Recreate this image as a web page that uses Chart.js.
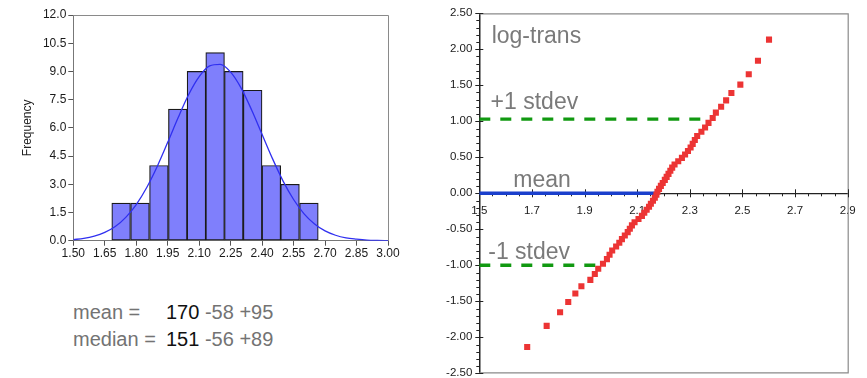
<!DOCTYPE html>
<html>
<head>
<meta charset="utf-8">
<script src="https://cdn.jsdelivr.net/npm/chart.js@4.4.1/dist/chart.umd.min.js"></script>
<style>
  body { margin: 0; background: #fff; width: 867px; height: 378px; overflow: hidden; position: relative; font-family: "Liberation Sans", Arial, sans-serif; }
  #histWrap { position: absolute; left: 0; top: 0; width: 400px; height: 270px; }
  #qqWrap { position: absolute; left: 420px; top: 0; width: 447px; height: 378px; }
  .stats { position: absolute; left: 73px; font-size: 20px; line-height: 20px; color: #737373; white-space: nowrap; }
  .stats .lbl { display: inline-block; width: 93px; }
  .stats b { font-weight: normal; color: #111; }
</style>
</head>
<body>
<div id="histWrap"><canvas id="histChart"></canvas></div>
<div id="qqWrap"><canvas id="qqChart"></canvas></div>
<div class="stats" style="top:302px"><span class="lbl">mean =</span><b>170</b> -58 +95</div>
<div class="stats" style="top:329px"><span class="lbl">median =</span><b>151</b> -56 +89</div>

<script>
// histogram (left)
const binCenters = [1.728, 1.818, 1.908, 1.998, 2.087, 2.176, 2.265, 2.355, 2.444, 2.533, 2.623];
const binCounts = [2, 2, 4, 7, 9, 10, 9, 8, 4, 3, 2];
const curveX = [1.50, 1.55, 1.60, 1.65, 1.70, 1.75, 1.80, 1.85, 1.90, 1.95, 2.00, 2.05, 2.10, 2.15, 2.20,
                2.25, 2.30, 2.35, 2.40, 2.45, 2.50, 2.55, 2.60, 2.65, 2.70, 2.75, 2.80, 2.85, 2.90, 2.95, 3.00];
const curveY = [0.06, 0.12, 0.24, 0.44, 0.75, 1.24, 1.92, 2.83, 3.95, 5.23, 6.55, 7.77, 8.72, 9.29, 9.37,
                8.96, 8.11, 6.95, 5.65, 4.35, 3.17, 2.19, 1.43, 0.89, 0.52, 0.29, 0.15, 0.08, 0.03, 0.01, 0.0];
const histXTicks = [1.50, 1.65, 1.80, 1.95, 2.10, 2.25, 2.40, 2.55, 2.70, 2.85, 3.00];
const histYTicks = [0, 1.5, 3.0, 4.5, 6.0, 7.5, 9.0, 10.5, 12.0];

// normal probability plot (right)
const qqX = [1.682, 1.756, 1.807, 1.838, 1.865, 1.888, 1.922, 1.939, 1.952, 1.970,
             1.985, 1.995, 2.005, 2.020, 2.032, 2.042, 2.053, 2.064, 2.072, 2.080,
             2.090, 2.105, 2.118, 2.127, 2.136, 2.145, 2.152, 2.160, 2.167, 2.173,
             2.177, 2.183, 2.190, 2.197, 2.205, 2.212, 2.219, 2.226, 2.233, 2.242,
             2.256, 2.270, 2.282, 2.293, 2.303, 2.311, 2.319, 2.328, 2.344, 2.358,
             2.371, 2.387, 2.399, 2.419, 2.438, 2.458, 2.492, 2.524, 2.559, 2.601];
const qqY = [-2.134, -1.841, -1.653, -1.509, -1.392, -1.291, -1.202, -1.121, -1.047, -0.978,
             -0.914, -0.854, -0.795, -0.740, -0.687, -0.636, -0.587, -0.539, -0.492, -0.446,
             -0.401, -0.357, -0.313, -0.270, -0.228, -0.186, -0.144, -0.103, -0.062, -0.021,
             0.021, 0.062, 0.103, 0.144, 0.186, 0.228, 0.270, 0.313, 0.357, 0.401,
             0.446, 0.492, 0.539, 0.587, 0.636, 0.687, 0.740, 0.795, 0.854, 0.914,
             0.978, 1.047, 1.121, 1.202, 1.291, 1.392, 1.509, 1.653, 1.841, 2.134];
const qqXTicks = [1.5, 1.7, 1.9, 2.1, 2.3, 2.5, 2.7, 2.9];
const qqYTicks = [-2.5, -2.0, -1.5, -1.0, -0.5, 0, 0.5, 1.0, 1.5, 2.0, 2.5];
const plusLine = [[1.5, 1.03], [2.377, 1.03]];
const minusLine = [[1.5, -1.0], [1.96, -1.0]];
const meanLine = [[1.5, 0.0], [2.174, 0.0]];
const qqLabels = [
  { text: "log-trans", x: 1.547, y: 2.09 },
  { text: "+1 stdev", x: 1.543, y: 1.17 },
  { text: "mean", x: 1.629, y: 0.085 },
  { text: "-1 stdev", x: 1.534, y: -0.91 },
];

const toXY = (pairs) => pairs.map((p) => ({ x: p[0], y: p[1] }));

// left chart: grey frame on top and right
const histFrame = {
  id: "histFrame",
  afterDraw(chart) {
    const { ctx, chartArea: a } = chart;
    ctx.save();
    ctx.strokeStyle = "#8a8a8a";
    ctx.lineWidth = 1;
    ctx.beginPath();
    ctx.moveTo(a.left, a.top + 0.5);
    ctx.lineTo(a.right + 0.5, a.top + 0.5);
    ctx.lineTo(a.right + 0.5, a.bottom);
    ctx.stroke();
    ctx.restore();
  },
};

new Chart(document.getElementById("histChart"), {
  type: "bar",
  data: {
    datasets: [
      {
        type: "line",
        data: curveX.map((x, i) => ({ x: x, y: curveY[i] })),
        borderColor: "#3030f0",
        borderWidth: 1.3,
        pointRadius: 0,
        cubicInterpolationMode: "monotone",
      },
      {
        type: "bar",
        data: binCenters.map((x, i) => ({ x: x, y: binCounts[i] })),
        backgroundColor: "#7f7ffc",
        borderColor: "#1a1a1a",
        borderWidth: 1.2,
        borderSkipped: false,
        categoryPercentage: 1,
        barPercentage: 1,
      },
    ],
  },
  options: {
    responsive: true,
    maintainAspectRatio: false,
    animation: false,
    layout: { padding: { left: 0, right: 12, top: 15, bottom: 0 } },
    plugins: { legend: { display: false }, tooltip: { enabled: false } },
    scales: {
      x: {
        type: "linear",
        min: 1.5,
        max: 3.0,
        offset: false,
        afterBuildTicks: (s) => { s.ticks = histXTicks.map((v) => ({ value: v })); },
        afterFit: (s) => { s.height = 29.3; s.paddingLeft = 0; s.paddingRight = 0; },
        ticks: {
          callback: (v) => Number(v).toFixed(2),
          color: "#1a1a1a",
          font: { family: "Liberation Sans", size: 12 },
          padding: 1,
          maxRotation: 0,
          autoSkip: false,
        },
        grid: { offset: false, drawOnChartArea: false, tickLength: 5, color: "#555" },
        border: { color: "#777" },
      },
      y: {
        min: 0,
        max: 12,
        afterBuildTicks: (s) => { s.ticks = histYTicks.map((v) => ({ value: v })); },
        afterFit: (s) => { s.width = 73.3; s.paddingTop = 0; s.paddingBottom = 0; },
        ticks: {
          callback: (v) => Number(v).toFixed(1),
          color: "#1a1a1a",
          font: { family: "Liberation Sans", size: 12 },
          padding: 2,
        },
        grid: { drawOnChartArea: false, tickLength: 5, color: "#555" },
        border: { color: "#777" },
        title: {
          display: true,
          text: "Frequency",
          color: "#222",
          font: { family: "Liberation Sans", size: 12 },
          padding: { top: 20, bottom: 0 },
        },
      },
    },
  },
  plugins: [histFrame],
});

// right chart: frame, minor ticks and text labels
const qqDecor = {
  id: "qqDecor",
  beforeDatasetsDraw(chart) {
    const { ctx, chartArea: a, scales } = chart;
    const xs = scales.x, ys = scales.y;
    const y0 = ys.getPixelForValue(0);
    ctx.save();
    ctx.strokeStyle = "#8a8a8a";
    ctx.lineWidth = 1.2;
    ctx.beginPath();
    ctx.moveTo(a.left, a.top + 0.5);
    ctx.lineTo(a.right + 0.5, a.top + 0.5);
    ctx.lineTo(a.right + 0.5, a.bottom - 0.5);
    ctx.lineTo(a.left, a.bottom - 0.5);
    ctx.stroke();

    ctx.strokeStyle = "#222";
    ctx.lineWidth = 1;
    ctx.beginPath();
    for (let k = -25; k <= 25; k++) {
      const py = Math.round(ys.getPixelForValue(k / 10)) + 0.5;
      if (k % 5 === 0) {
        ctx.moveTo(a.left - 4, py);
        ctx.lineTo(a.left + 4, py);
      } else {
        ctx.moveTo(a.left - 3, py);
        ctx.lineTo(a.left, py);
      }
    }
    for (let k = 30; k <= 58; k++) {
      const px = Math.round(xs.getPixelForValue(k / 20)) + 0.5;
      if (k % 4 === 2) {
        ctx.moveTo(px, y0 - 4);
        ctx.lineTo(px, y0 + 4);
      } else {
        ctx.moveTo(px, y0);
        ctx.lineTo(px, y0 + 3);
      }
    }
    ctx.stroke();

    ctx.fillStyle = "#7a7a7a";
    ctx.font = "23px 'Liberation Sans', Arial, sans-serif";
    ctx.textBaseline = "alphabetic";
    ctx.textAlign = "left";
    qqLabels.forEach((l) => {
      ctx.fillText(l.text, xs.getPixelForValue(l.x), ys.getPixelForValue(l.y));
    });
    ctx.restore();
  },
};

const lineSet = (pairs, color, dash) => ({
  data: toXY(pairs),
  showLine: true,
  borderColor: color,
  borderWidth: 3.4,
  borderDash: dash,
  pointRadius: 0,
  fill: false,
});

new Chart(document.getElementById("qqChart"), {
  type: "scatter",
  data: {
    datasets: [
      {
        data: qqX.map((x, i) => ({ x: x, y: qqY[i] })),
        pointStyle: "rect",
        pointRadius: 4.3,
        pointBorderWidth: 0,
        backgroundColor: "#ec3434",
        borderColor: "#ec3434",
      },
      lineSet(plusLine, "#119911", [11, 10]),
      lineSet(minusLine, "#119911", [11, 10]),
      lineSet(meanLine, "#1a3fcc", []),
    ],
  },
  options: {
    responsive: true,
    maintainAspectRatio: false,
    animation: false,
    layout: { padding: { left: 0, right: 19.3, top: 13.3, bottom: 4.7 } },
    plugins: { legend: { display: false }, tooltip: { enabled: false } },
    scales: {
      x: {
        type: "linear",
        position: { y: 0 },
        min: 1.5,
        max: 2.9,
        afterBuildTicks: (s) => { s.ticks = qqXTicks.map((v) => ({ value: v })); },
        afterFit: (s) => { s.paddingLeft = 0; s.paddingRight = 0; },
        ticks: {
          callback: (v) => Number(v).toFixed(1),
          color: "#1a1a1a",
          font: { family: "Liberation Sans", size: 11.5 },
          padding: 11,
          maxRotation: 0,
          autoSkip: false,
        },
        grid: { display: false, drawTicks: false },
        border: { display: true, color: "#222", width: 1.2 },
      },
      y: {
        min: -2.5,
        max: 2.5,
        afterBuildTicks: (s) => { s.ticks = qqYTicks.map((v) => ({ value: v })); },
        afterFit: (s) => { s.width = 59.3; s.paddingTop = 0; s.paddingBottom = 0; },
        ticks: {
          callback: (v) => Number(v).toFixed(2),
          color: "#1a1a1a",
          font: { family: "Liberation Sans", size: 11.5 },
          padding: 7,
        },
        grid: { display: false, drawTicks: false },
        border: { display: true, color: "#222", width: 1.5 },
      },
    },
  },
  plugins: [qqDecor],
});
</script>
</body>
</html>
